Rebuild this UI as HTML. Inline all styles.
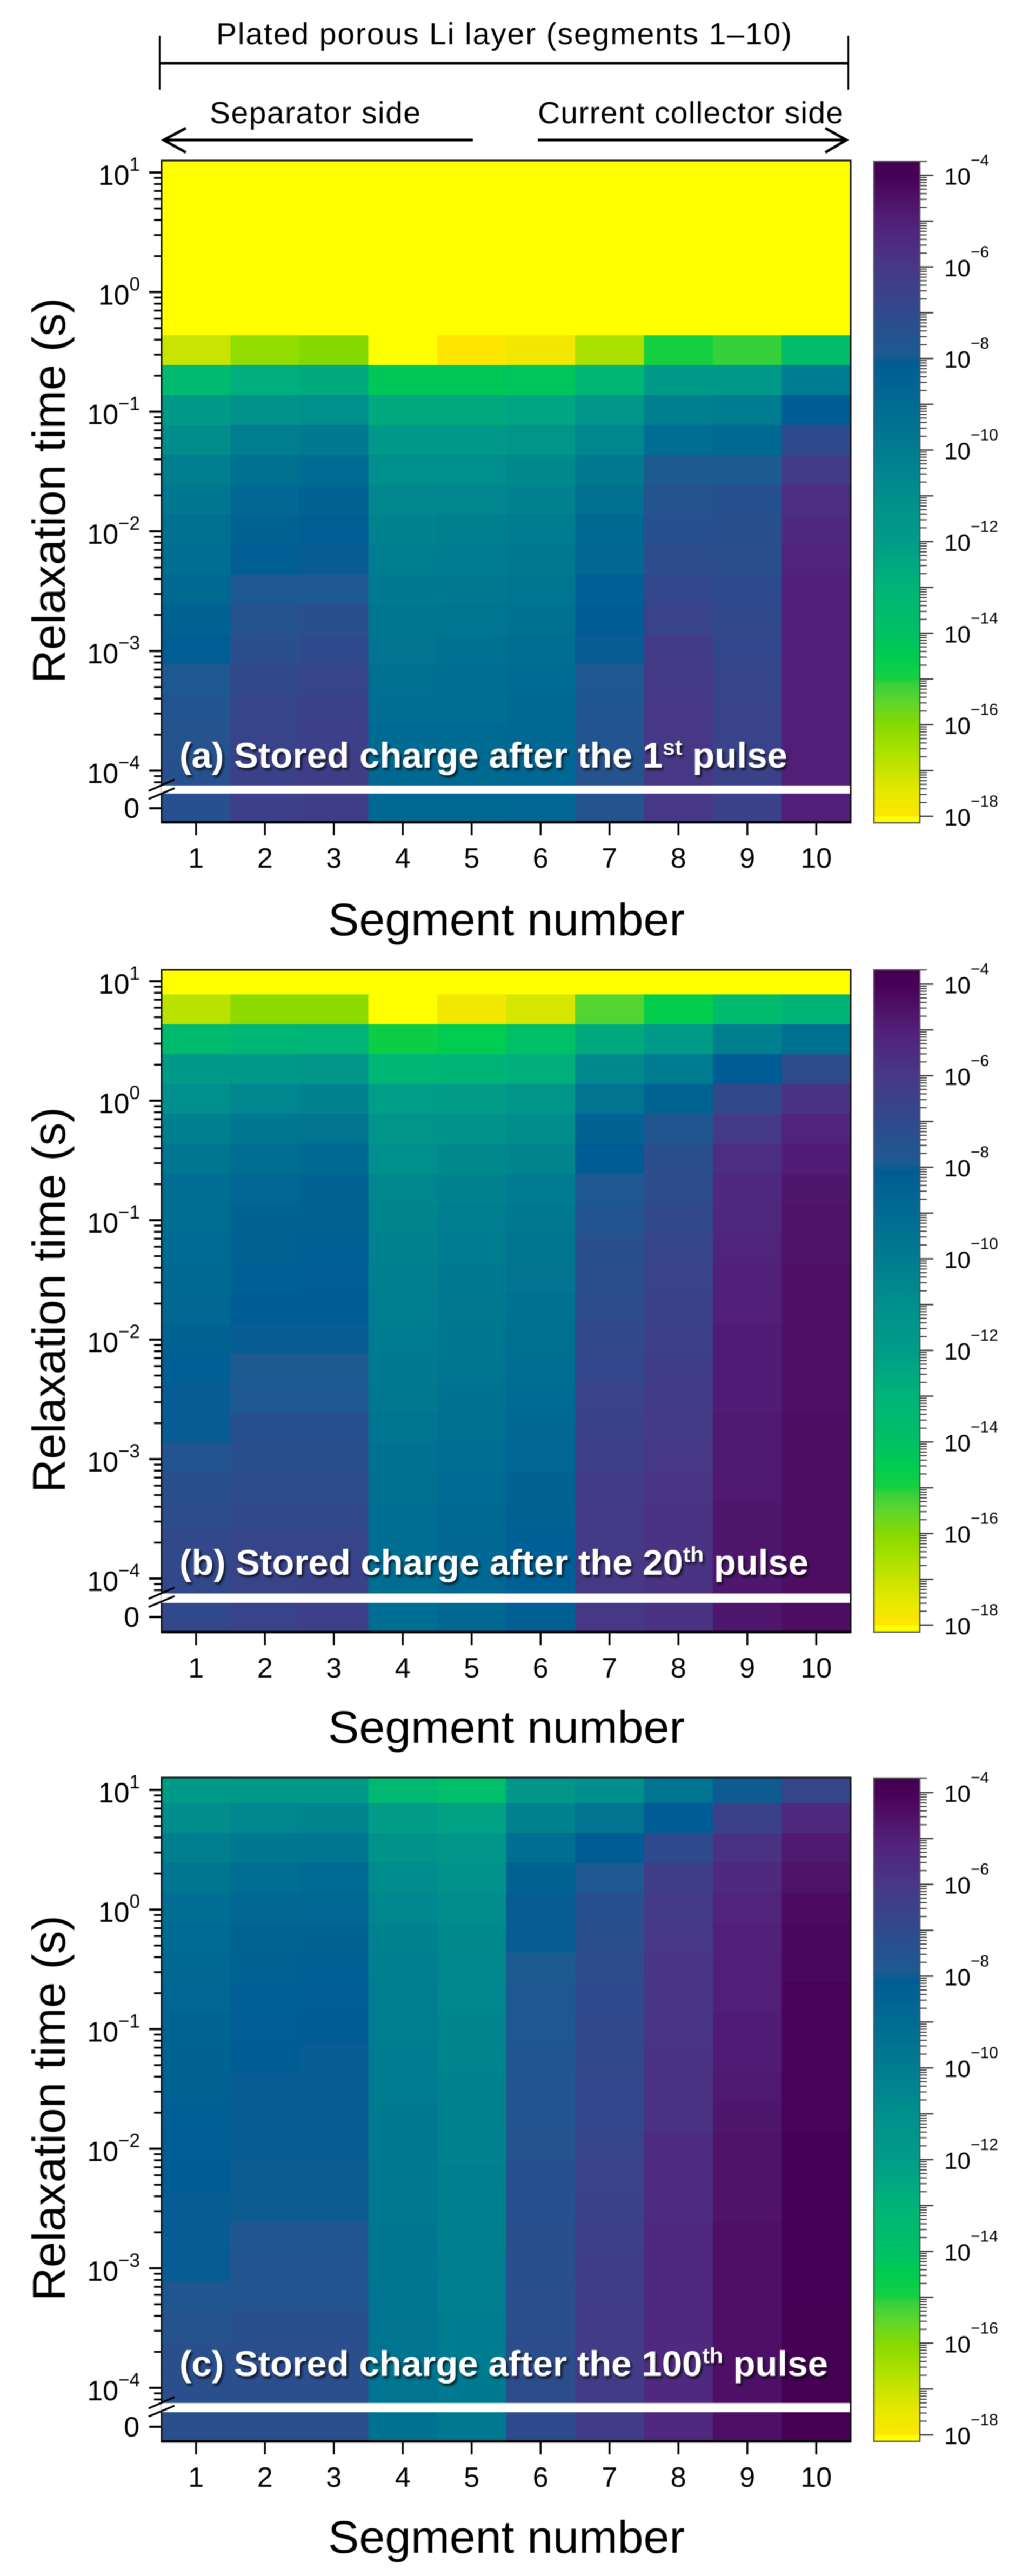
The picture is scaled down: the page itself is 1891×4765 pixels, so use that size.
<!DOCTYPE html>
<html lang="en">
<head>
<meta charset="utf-8">
<title>Stored charge heatmaps</title>
<style>
html,body{margin:0;padding:0;background:#fff}
svg{display:block;filter:blur(0.7px)}
text{font-family:"Liberation Sans",Arial,sans-serif;fill:#000}
</style>
</head>
<body>
<svg id="chart" xmlns="http://www.w3.org/2000/svg" width="1891" height="4765" viewBox="0 0 1891 4765">
<defs>
<filter id="labelShadow" x="-5%" y="-30%" width="110%" height="170%"><feDropShadow dx="3" dy="4" stdDeviation="2.5" flood-color="#000" flood-opacity="0.75"/></filter>
</defs>
<rect width="1891" height="4765" fill="#fff"/>
<g>
<text x="400" y="82" font-size="57" textLength="1065">Plated porous Li layer (segments 1–10)</text>
<line x1="295" y1="117" x2="1570" y2="117" stroke="#000" stroke-width="5"/>
<line x1="295.5" y1="66" x2="295.5" y2="166" stroke="#000" stroke-width="3"/>
<line x1="1569.5" y1="66" x2="1569.5" y2="166" stroke="#000" stroke-width="3"/>
<text x="388" y="228" font-size="57" textLength="390">Separator side</text>
<text x="995" y="228" font-size="57" textLength="565">Current collector side</text>
<path d="M875 259H303M344 237L303 259L344 282" fill="none" stroke="#000" stroke-width="5"/>
<path d="M995 259H1566M1527 237L1566 259L1527 282" fill="none" stroke="#000" stroke-width="5"/>
</g>
</svg>
<script>
// Segment categories and relaxation-time bin edges (log10 seconds, top to bottom)
const segments = [1, 2, 3, 4, 5, 6, 7, 8, 9, 10];
const binEdgesLogTau = [1.1, 0.89, 0.64, 0.39, 0.14, -0.11, -0.36, -0.61, -0.86, -1.11, -1.36, -1.61, -1.86, -2.11, -2.36, -2.61, -2.86, -3.11, -3.36, -3.61, -3.86, -4.13];
const yTickExponents = [1, 0, -1, -2, -3, -4];
const colorbarLabelExponents = [-4, -6, -8, -10, -12, -14, -16, -18];
const colorbarTickExponents = [-4, -5, -6, -7, -8, -9, -10, -11, -12, -13, -14, -15, -16, -17, -18];
const minorMultipliers = [2, 3, 4, 5, 6, 7, 8, 9];

// Colour scale: log10(stored charge) against colour
const cmapLogValues = [-18, -17.5, -17, -16.5, -16, -15.5, -15.1, -15, -14.5, -14, -13, -12, -11, -10, -9, -8.1, -7.9, -7, -6, -5, -4.3, -4, -3.7];
const cmapColors = ['#ffe600', '#e8e800', '#c8e400', '#a6e000', '#86d900', '#5dd62e', '#35d03a', '#14d040', '#00cc50', '#00c065', '#00b478', '#009c88', '#008f8c', '#007c90', '#006b92', '#005c94', '#1c5a90', '#2f4a8c', '#473885', '#521f78', '#4c0a60', '#460056', '#430050'];
const underRangeColor = '#ffff00';

// log10(stored charge) per relaxation-time bin (rows) and segment (columns); -19 is below the colour range; last row is tau = 0
const panelAValues = [
[-19,-19,-19,-19,-19,-19,-19,-19,-19,-19],
[-19,-19,-19,-19,-19,-19,-19,-19,-19,-19],
[-19,-19,-19,-19,-19,-19,-19,-19,-19,-19],
[-19,-19,-19,-19,-19,-19,-19,-19,-19,-19],
[-19,-19,-19,-19,-19,-19,-19,-19,-19,-19],
[-19,-19,-19,-19,-19,-19,-19,-19,-19,-19],
[-17,-16.2,-16,-19,-18,-17.7,-16.6,-15,-15.1,-13.7],
[-13.5,-12.7,-12.6,-14.3,-14.3,-14.2,-13.2,-11.9,-11.8,-10],
[-11.8,-11.2,-11,-12.6,-12.6,-12.4,-11.5,-10.2,-10,-8.1],
[-10.9,-10.1,-9.9,-11.7,-11.7,-11.4,-10.5,-9.1,-8.9,-7],
[-10.1,-9.3,-9,-11,-11,-10.7,-9.8,-7.9,-7.9,-6.2],
[-9.7,-8.8,-8.5,-10.6,-10.5,-10.3,-9.3,-7.5,-7.4,-5.6],
[-9.3,-8.5,-8.2,-10.3,-10.2,-10,-8.9,-7.4,-7.3,-5.4],
[-9.1,-8.2,-8.05,-10.1,-10,-9.8,-8.8,-7.1,-7.2,-5.2],
[-8.9,-7.8,-7.8,-9.9,-9.8,-9.6,-8.3,-6.8,-7,-5.1],
[-8.4,-7.5,-7.3,-9.7,-9.6,-9.4,-8.1,-6.6,-6.9,-5.1],
[-8.2,-7.2,-7,-9.5,-9.4,-9.2,-8.05,-6.2,-6.8,-5.1],
[-7.8,-6.9,-6.7,-9.3,-9.2,-9,-7.8,-6.1,-6.7,-5.1],
[-7.6,-6.7,-6.5,-9.1,-9.1,-8.9,-7.7,-6,-6.6,-5],
[-7.5,-6.6,-6.4,-9,-9,-8.8,-7.6,-6,-6.6,-5],
[-7.4,-6.5,-6.3,-8.9,-8.9,-8.7,-7.5,-6,-6.5,-5],
[-7.4,-6.4,-6.3,-8.9,-8.9,-8.7,-7.5,-6,-6.5,-5]
];
const panelBValues = [
[-19,-19,-19,-19,-19,-19,-19,-19,-19,-19],
[-16.8,-16.1,-16.1,-19,-17.7,-17.2,-15.4,-14.6,-13.6,-13],
[-13.6,-13.2,-13.1,-14.8,-14.5,-14,-12.6,-11.9,-10.2,-9.3],
[-11.9,-11.7,-11.6,-13.2,-13,-12.8,-10.7,-10,-8.1,-7.1],
[-11,-10.5,-10.3,-12.1,-12,-11.5,-9.5,-8.6,-6.9,-5.8],
[-10.2,-9.7,-9.5,-11.4,-11.2,-10.9,-8.5,-7.7,-6.1,-5.2],
[-9.6,-9.1,-8.9,-11,-10.7,-10.4,-8.1,-7.2,-5.6,-4.9],
[-9.2,-8.7,-8.5,-10.6,-10.3,-10,-7.8,-7.1,-5.4,-4.7],
[-9.1,-8.5,-8.4,-10.4,-10.1,-9.8,-7.6,-6.9,-5.3,-4.6],
[-9,-8.4,-8.3,-10.3,-10,-9.6,-7.3,-6.7,-5.2,-4.6],
[-8.9,-8.3,-8.2,-10.2,-9.9,-9.5,-7.2,-6.6,-5.1,-4.5],
[-8.8,-8.1,-8.1,-10.1,-9.8,-9.4,-7.1,-6.5,-5,-4.5],
[-8.5,-8.05,-8.05,-10,-9.7,-9.3,-6.9,-6.4,-4.9,-4.5],
[-8.3,-7.9,-7.9,-9.9,-9.6,-9.1,-6.8,-6.3,-4.9,-4.5],
[-8.05,-7.8,-7.8,-9.8,-9.4,-9,-6.6,-6.2,-4.9,-4.5],
[-8.05,-7.4,-7.4,-9.6,-9.3,-8.8,-6.5,-6.1,-4.8,-4.4],
[-7.6,-7.3,-7.3,-9.4,-9.2,-8.7,-6.4,-6,-4.8,-4.4],
[-7.3,-7.1,-7.1,-9.3,-9,-8.5,-6.2,-5.9,-4.8,-4.4],
[-7.1,-6.9,-6.9,-9.2,-8.9,-8.4,-6.1,-5.8,-4.7,-4.4],
[-6.9,-6.7,-6.7,-9.1,-8.8,-8.3,-6.1,-5.8,-4.7,-4.4],
[-6.9,-6.6,-6.5,-9.1,-8.8,-8.3,-6,-5.8,-4.7,-4.4],
[-6.9,-6.6,-6.4,-9.1,-8.8,-8.3,-6,-5.8,-4.7,-4.4]
];
const panelCValues = [
[-11.9,-11.8,-11.8,-13.3,-13.8,-11.6,-11,-9.5,-8,-6.7],
[-10.9,-10.5,-10.4,-12,-12.2,-10.3,-9.5,-8.1,-6.5,-5.4],
[-10.1,-9.7,-9.6,-11.2,-11.5,-9.2,-8.1,-7,-5.7,-4.8],
[-9.6,-9.1,-9,-10.8,-11.2,-8.4,-7.8,-6.3,-5.4,-4.6],
[-9.2,-8.8,-8.7,-10.5,-10.9,-8.05,-7.4,-6.1,-5.2,-4.3],
[-9,-8.6,-8.5,-10.3,-10.7,-8.05,-7.2,-6,-5.1,-4.2],
[-8.8,-8.4,-8.3,-10.2,-10.6,-7.9,-7.1,-5.9,-5,-4.2],
[-8.7,-8.3,-8.2,-10.1,-10.5,-7.8,-7,-5.9,-5,-4.1],
[-8.6,-8.2,-8.1,-10.1,-10.4,-7.8,-6.9,-5.9,-4.9,-4.1],
[-8.5,-8.1,-8.05,-10,-10.4,-7.7,-6.9,-5.8,-4.9,-4.1],
[-8.4,-8.05,-8.05,-10,-10.3,-7.6,-6.8,-5.7,-4.8,-4.1],
[-8.3,-8.05,-8.05,-9.9,-10.3,-7.6,-6.8,-5.7,-4.7,-4.1],
[-8.2,-8.05,-8.05,-9.9,-10.3,-7.5,-6.7,-5.5,-4.6,-4],
[-8.1,-8,-8,-9.8,-10.2,-7.4,-6.6,-5.5,-4.6,-4],
[-8.05,-8,-8,-9.8,-10.2,-7.4,-6.5,-5.5,-4.6,-4],
[-8.05,-7.7,-7.7,-9.7,-10.2,-7.3,-6.4,-5.4,-4.5,-4],
[-8.05,-7.6,-7.6,-9.7,-10.1,-7.3,-6.3,-5.4,-4.5,-4],
[-7.7,-7.6,-7.6,-9.6,-10.1,-7.2,-6.3,-5.4,-4.5,-3.95],
[-7.5,-7.3,-7.3,-9.5,-10,-7.2,-6.2,-5.4,-4.5,-3.9],
[-7.3,-7.2,-7.2,-9.5,-10,-7.1,-6.2,-5.4,-4.5,-3.9],
[-7.2,-7.2,-7.2,-9.5,-9.9,-7.1,-6.2,-5.4,-4.5,-3.9],
[-7.2,-7.2,-7.2,-9.4,-9.8,-7,-6.2,-5.4,-4.5,-3.9]
];

const NS = 'http://www.w3.org/2000/svg';
const chart = document.getElementById('chart');

function make(parent, tag, attrs) {
  const el = document.createElementNS(NS, tag);
  for (const k in attrs) el.setAttribute(k, attrs[k]);
  parent.appendChild(el);
  return el;
}
function hexToRgb(h) {
  return [parseInt(h.slice(1, 3), 16), parseInt(h.slice(3, 5), 16), parseInt(h.slice(5, 7), 16)];
}
function colorFor(v) {
  if (v < cmapLogValues[0]) return underRangeColor;
  const n = cmapLogValues.length;
  if (v >= cmapLogValues[n - 1]) return cmapColors[n - 1];
  let i = 0;
  while (v > cmapLogValues[i + 1]) i++;
  const t = (v - cmapLogValues[i]) / (cmapLogValues[i + 1] - cmapLogValues[i]);
  const a = hexToRgb(cmapColors[i]);
  const b = hexToRgb(cmapColors[i + 1]);
  const c = a.map((x, j) => Math.round(x + (b[j] - x) * t));
  return 'rgb(' + c.join(',') + ')';
}
function powerLabel(parent, x, y, anchor, mainSize, supSize, supRise, exponent) {
  const t = make(parent, 'text', { x: x, y: y, 'font-size': mainSize, 'text-anchor': anchor });
  t.appendChild(document.createTextNode('10'));
  const s = make(t, 'tspan', { dy: -supRise, 'font-size': supSize });
  s.textContent = String(exponent).replace('-', '\u2212');
  return t;
}

function drawPanel(p) {
  const left = 299, right = 1574;
  const columnWidth = (right - left) / segments.length;
  const xForSegment = s => left + (s - 0.5) * columnWidth;
  const decadePx = (p.yM4 - p.y10) / 5;
  const yForLogTau = v => p.y10 + (1 - v) * decadePx;
  const cbDecadePx = (p.cbM18 - p.cbM4) / 14;
  const cbY = e => p.cbM4 + (-4 - e) * cbDecadePx;

  const g = make(chart, 'g', {});
  
  

  const cells = make(g, 'g', {});
  
  
  const nRows = binEdgesLogTau.length - 1;
  p.values.forEach((row, r) => {
    let y0, y1;
    if (r < nRows) {
      y0 = Math.max(p.top, yForLogTau(binEdgesLogTau[r]));
      y1 = Math.min(p.breakTop, yForLogTau(binEdgesLogTau[r + 1]));
    } else {
      y0 = p.breakBot;
      y1 = p.bottom;
    }
    row.forEach((v, c) => {
      const rect = make(cells, 'rect', { x: left + c * columnWidth, y: y0, width: columnWidth + 0.5, height: y1 - y0 + 0.5, fill: colorFor(v) });
      
      
    });
  });

  const frame = make(g, 'rect', { x: left, y: p.top, width: right - left, height: p.bottom - p.top, fill: 'none', stroke: '#111', 'stroke-width': 3 });
  
  
  const baseLine = make(g, 'line', { x1: left - 1, x2: right + 1, y1: p.bottom, y2: p.bottom, stroke: '#000', 'stroke-width': 4.5 });
  
  

  const band = make(g, 'rect', { x: left - 1, y: p.breakTop, width: right - left - 1, height: p.breakBot - p.breakTop, fill: '#fff' });
  
  

  // y axis ticks and labels
  const yAxis = make(g, 'g', { stroke: '#000' });
  
  
  yTickExponents.forEach(e => {
    const tick = make(yAxis, 'line', { x1: 276, x2: left, y1: yForLogTau(e), y2: yForLogTau(e), 'stroke-width': 4 });
    
    
    const label = powerLabel(g, 259, yForLogTau(e) + 23, 'end', 52, 35, 26, e);
    
    
    minorMultipliers.forEach(m => {
      const v = e - 1 + Math.log10(m);
      const y = yForLogTau(v);
      if (y > p.top && y < p.breakTop - 5) {
        const minor = make(yAxis, 'line', { x1: 285, x2: left, y1: y, y2: y, 'stroke-width': 3.5 });
        
        
      }
    });
  });
  const zeroTick = make(yAxis, 'line', { x1: 276, x2: left, y1: p.y0, y2: p.y0, 'stroke-width': 4 });
  
  
  const zeroLabel = make(g, 'text', { x: 258, y: p.y0 + 18, 'font-size': 52, 'text-anchor': 'end' });
  zeroLabel.textContent = '0';
  
  

  // axis break marks
  [0, 1].forEach(k => {
    const slash = make(g, 'line', { x1: 275, y1: p.breakTop + 10 + k * 15, x2: 323, y2: p.breakTop - 11 + k * 16, stroke: '#000', 'stroke-width': 3.5 });
    
    
  });

  // x axis ticks and labels
  segments.forEach(s => {
    const x = xForSegment(s);
    const tick = make(g, 'line', { x1: x, x2: x, y1: p.bottom + 1, y2: p.bottom + 24, stroke: '#000', 'stroke-width': 3.5 });
    
    
    const label = make(g, 'text', { x: x, y: p.bottom + 84, 'font-size': 52, 'text-anchor': 'middle' });
    label.textContent = String(s);
    
    
  });

  const xTitle = make(g, 'text', { x: 607, y: p.xTitleY, 'font-size': 84, textLength: 660, lengthAdjust: 'spacingAndGlyphs' });
  xTitle.textContent = 'Segment number';
  
  

  const yTitle = make(g, 'text', { transform: 'translate(120,' + p.yTitleY + ') rotate(-90)', 'font-size': 85, textLength: 713, lengthAdjust: 'spacingAndGlyphs' });
  yTitle.textContent = 'Relaxation time (s)';
  
  

  // panel caption
  const cap = make(g, 'text', { x: 332, y: p.captionY, 'font-size': 66, 'font-weight': 'bold', filter: 'url(#labelShadow)', textLength: p.captionWidth, lengthAdjust: 'spacingAndGlyphs' });
  cap.style.fill = '#fff';
  
  
  cap.appendChild(document.createTextNode(p.captionHead));
  const sup = make(cap, 'tspan', { dy: -24, 'font-size': 40 });
  sup.style.fill = '#fff';
  sup.textContent = p.captionSup;
  const tail = make(cap, 'tspan', { dy: 24 });
  tail.style.fill = '#fff';
  tail.textContent = ' pulse';

  // colour bar
  const cb = make(g, 'g', {});
  
  
  const cbLeft = 1617, cbRight = 1702;
  const grad = make(chart.querySelector('defs'), 'linearGradient', { id: 'cbGrad' + p.id, gradientUnits: 'userSpaceOnUse', x1: 0, x2: 0, y1: p.cbTop, y2: cbY(-18) });
  const span = cbY(-18) - p.cbTop;
  for (let i = cmapLogValues.length - 1; i >= 0; i--) {
    make(grad, 'stop', { offset: Math.max(0, (cbY(cmapLogValues[i]) - p.cbTop) / span), 'stop-color': cmapColors[i] });
  }
  const cbBody = make(cb, 'rect', { x: cbLeft, y: p.cbTop, width: cbRight - cbLeft, height: cbY(-18) - p.cbTop, fill: 'url(#cbGrad' + p.id + ')' });
  
  
  const cbUnder = make(cb, 'rect', { x: cbLeft, y: cbY(-18), width: cbRight - cbLeft, height: p.cbBottom - cbY(-18), fill: underRangeColor });
  
  
  const cbFrame = make(cb, 'rect', { x: cbLeft, y: p.cbTop, width: cbRight - cbLeft, height: p.cbBottom - p.cbTop, fill: 'none', stroke: '#555', 'stroke-width': 2.5 });
  
  
  colorbarTickExponents.forEach(e => {
    const y = cbY(e);
    const tick = make(cb, 'line', { x1: cbRight, x2: 1727, y1: y, y2: y, stroke: '#333', 'stroke-width': 2.5 });
    
    
    minorMultipliers.forEach(m => {
      const v = e - 1 + Math.log10(m);
      if (v >= -18) {
        const yy = cbY(v);
        const minor = make(cb, 'line', { x1: cbRight, x2: 1715, y1: yy, y2: yy, stroke: '#333', 'stroke-width': 2 });
        
        
      }
    });
  });
  const cbTopTick = make(cb, 'line', { x1: cbRight, x2: 1715, y1: p.cbTop, y2: p.cbTop, stroke: '#555', 'stroke-width': 2.5 });
  
  
  colorbarLabelExponents.forEach(e => {
    const label = powerLabel(cb, 1747, cbY(e) + 17, 'start', 44, 30, 35, e);
    
    
  });
}

drawPanel({ id: 'a', values: panelAValues, top: 297, bottom: 1521, y10: 319, yM4: 1425.5, y0: 1495, breakTop: 1453, breakBot: 1468,
  cbTop: 298.5, cbBottom: 1522, cbM4: 324.4, cbM18: 1510, xTitleY: 1730, yTitleY: 1264, captionY: 1420, captionWidth: 1125,
  captionHead: '(a) Stored charge after the 1', captionSup: 'st' });
drawPanel({ id: 'b', values: panelBValues, top: 1794, bottom: 3019, y10: 1815, yM4: 2920, y0: 2991, breakTop: 2947.5, breakBot: 2965,
  cbTop: 1794, cbBottom: 3019, cbM4: 1820.4, cbM18: 3006, xTitleY: 3224, yTitleY: 2761, captionY: 2913, captionWidth: 1164,
  captionHead: '(b) Stored charge after the 20', captionSup: 'th' });
drawPanel({ id: 'c', values: panelCValues, top: 3288, bottom: 4516, y10: 3311, yM4: 4417, y0: 4489, breakTop: 4445, breakBot: 4462,
  cbTop: 3289, cbBottom: 4516, cbM4: 3316, cbM18: 4504, xTitleY: 4722, yTitleY: 4256, captionY: 4395, captionWidth: 1200,
  captionHead: '(c) Stored charge after the 100', captionSup: 'th' });
</script>
</body>
</html>
